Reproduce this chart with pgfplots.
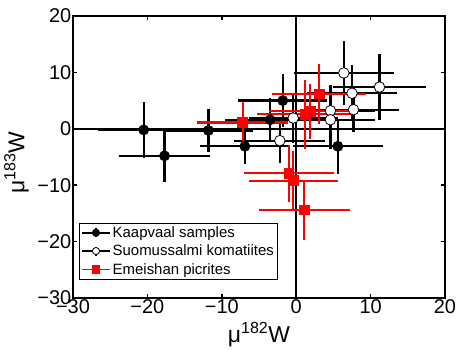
\documentclass[border=0pt]{standalone}
\usepackage{pgfplots}
\pgfplotsset{compat=1.18}
\usepackage{pgfplotstable}
\usepackage{fontspec}
\setmainfont{Liberation Sans}
\definecolor{myred}{RGB}{255,0,0}

\pgfplotstableread{
x y ex ey
-20.5 -0.2 6.1 4.9
-17.7 -4.8 6.1 4.6
-11.8 -0.3 6.0 3.8
-6.9 -3.1 6.0 3.1
-3.5 1.6 6.1 3.8
-1.8 5.0 6.0 4.7
5.6 -3.1 6.0 4.9
}\kaap

\pgfplotstableread{
x y ex ey
-0.4 1.9 6.0 4.5
-2.2 -2.1 6.1 4.0
6.4 9.9 6.7 5.6
7.5 6.3 6.1 5.0
11.2 7.4 6.2 5.8
4.6 3.2 6.0 4.5
7.7 3.4 6.1 4.0
4.6 1.6 6.0 5.2
}\suom

\pgfplotstableread{
x y ex ey
-7.2 1.1 6.1 3.7
3.1 6.2 6.3 5.3
1.2 2.6 6.5 6.1
1.9 3.1 5.6 4.9
-1.0 -7.9 6.05 5.0
-0.4 -9.2 6.0 5.3
1.1 -14.4 6.1 5.4
}\emei

\begin{document}
\begin{tikzpicture}
\begin{axis}[
  name=ax,
  scale only axis,
  width=372bp, height=282bp,
  xmin=-30, xmax=20, ymin=-30, ymax=20,
  xtick={-30,-20,-10,0,10,20},
  ytick={-30,-20,-10,0,10,20},
  xticklabels={−30,−20,−10,0,10,20},
  yticklabels={−30,−20,−10,0,10,20},
  tick align=inside,
  xtick pos=both, ytick pos=both,
  major tick length=4bp,
  axis line style={line width=2bp},
  every tick/.style={black, line width=1.5bp},
  tick label style={font=\fontsize{20}{24}\selectfont},
  xticklabel style={inner sep=1.5bp},
  yticklabel style={inner sep=1.5bp},
  xlabel={μ\textsuperscript{182}W},
  ylabel={μ\textsuperscript{183}W},
  every axis x label/.style={at={(axis description cs:0.5,-0.085)}, anchor=north,
    font=\fontsize{23}{27}\selectfont, inner sep=0pt},
  every axis y label/.style={at={(axis description cs:-0.152,0.48)}, rotate=90, anchor=center,
    font=\fontsize{23}{27}\selectfont, inner sep=0pt},
  legend cell align=left,
  legend style={at={(axis description cs:0.017,0.267)}, anchor=north west,
    font=\fontsize{15}{17}\selectfont, draw=black, line width=0.8bp,
    inner sep=1.5bp, row sep=2bp},
  legend image code/.code={
    \draw[#1, line width=1.5bp] (0bp,0bp) -- (28bp,0bp) (14bp,-4.5bp) -- (14bp,4.5bp);
    \draw[#1, line width=0.8bp, mark size=3.6bp] plot coordinates {(14bp,0bp)};
  },
  clip=false,
]
\draw[line width=2bp] (axis cs:0,-30) -- (axis cs:0,20);
\draw[line width=2bp] (axis cs:-30,0) -- (axis cs:20,0);

\addplot[black, only marks, mark=*, mark size=5bp, line width=2.2bp,
  mark options={line width=0.8bp},
  error bars/.cd, x dir=both, x explicit, y dir=both, y explicit,
  error bar style={line width=2.2bp, black}, error mark=none]
  table[x=x, y=y, x error=ex, y error=ey] {\kaap};
\addlegendentry{Kaapvaal samples}

\addplot[black, only marks, mark=*, mark size=5.3bp, line width=2.2bp,
  mark options={fill=white, line width=0.8bp},
  error bars/.cd, x dir=both, x explicit, y dir=both, y explicit,
  error bar style={line width=2.2bp, black}, error mark=none]
  table[x=x, y=y, x error=ex, y error=ey] {\suom};
\addlegendentry{Suomussalmi komatiites}

\addplot[myred, only marks, mark=square*, mark size=4.8bp, line width=2.2bp,
  mark options={line width=0.8bp},
  error bars/.cd, x dir=both, x explicit, y dir=both, y explicit,
  error bar style={line width=2.2bp, myred}, error mark=none]
  table[x=x, y=y, x error=ex, y error=ey] {\emei};
\addlegendentry{Emeishan picrites}
\end{axis}
\pgfresetboundingbox
\path[use as bounding box] ([shift={(-73bp,-52bp)}]ax.south west) rectangle ([shift={(12bp,16bp)}]ax.north east);
\end{tikzpicture}
\end{document}
